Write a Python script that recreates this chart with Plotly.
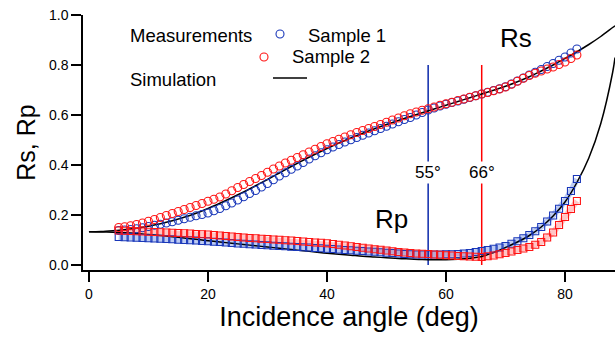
import plotly.graph_objects as go

# ---------------- data ----------------
angles_meas = list(range(5, 83))

rs_sample1 = [0.138, 0.140, 0.142, 0.145, 0.149, 0.154, 0.159, 0.163, 0.168, 0.173,
              0.179, 0.185, 0.191, 0.197, 0.202, 0.208, 0.217, 0.226, 0.237, 0.248,
              0.260, 0.273, 0.286, 0.298, 0.312, 0.326, 0.341, 0.356, 0.369, 0.383,
              0.396, 0.410, 0.424, 0.437, 0.449, 0.461, 0.472, 0.482, 0.492, 0.501,
              0.510, 0.519, 0.528, 0.537, 0.546, 0.555, 0.564, 0.573, 0.582, 0.590,
              0.600, 0.610, 0.620, 0.628, 0.636, 0.643, 0.650, 0.656, 0.663, 0.670,
              0.677, 0.684, 0.691, 0.698, 0.705, 0.713, 0.724, 0.736, 0.748, 0.760,
              0.771, 0.782, 0.794, 0.806, 0.819, 0.832, 0.848, 0.864]

rs_sample2 = [0.150, 0.153, 0.157, 0.162, 0.168, 0.175, 0.182, 0.190, 0.198, 0.206,
              0.214, 0.222, 0.230, 0.238, 0.246, 0.255, 0.263, 0.272, 0.284, 0.297,
              0.310, 0.322, 0.334, 0.346, 0.358, 0.371, 0.384, 0.396, 0.408, 0.419,
              0.430, 0.441, 0.452, 0.463, 0.474, 0.485, 0.494, 0.503, 0.512, 0.521,
              0.530, 0.538, 0.546, 0.554, 0.562, 0.571, 0.580, 0.588, 0.597, 0.605,
              0.612, 0.619, 0.625, 0.632, 0.639, 0.645, 0.651, 0.658, 0.664, 0.671,
              0.677, 0.684, 0.690, 0.697, 0.704, 0.712, 0.723, 0.735, 0.747, 0.758,
              0.767, 0.776, 0.784, 0.792, 0.802, 0.812, 0.826, 0.840]

rp_sample1 = [0.112, 0.111, 0.110, 0.109, 0.108, 0.107, 0.106, 0.105, 0.104, 0.103,
              0.101, 0.100, 0.099, 0.098, 0.096, 0.095, 0.093, 0.092, 0.090, 0.088,
              0.086, 0.085, 0.083, 0.082, 0.080, 0.079, 0.077, 0.076, 0.075, 0.073,
              0.072, 0.071, 0.070, 0.068, 0.067, 0.065, 0.064, 0.062, 0.060, 0.059,
              0.057, 0.056, 0.054, 0.053, 0.051, 0.049, 0.048, 0.046, 0.044, 0.043,
              0.042, 0.042, 0.042, 0.042, 0.042, 0.043, 0.043, 0.044, 0.046, 0.048,
              0.052, 0.056, 0.060, 0.065, 0.070, 0.076, 0.085, 0.095, 0.107, 0.120,
              0.135, 0.152, 0.174, 0.198, 0.225, 0.256, 0.296, 0.344]

rp_sample2 = [0.138, 0.137, 0.136, 0.135, 0.134, 0.133, 0.132, 0.131, 0.130, 0.129,
              0.128, 0.127, 0.126, 0.124, 0.123, 0.122, 0.120, 0.118, 0.116, 0.114,
              0.112, 0.110, 0.108, 0.107, 0.105, 0.104, 0.102, 0.101, 0.099, 0.098,
              0.096, 0.094, 0.092, 0.090, 0.089, 0.087, 0.084, 0.081, 0.078, 0.075,
              0.072, 0.069, 0.066, 0.063, 0.061, 0.058, 0.055, 0.052, 0.050, 0.048,
              0.046, 0.045, 0.044, 0.042, 0.041, 0.039, 0.038, 0.036, 0.035, 0.034,
              0.033, 0.032, 0.035, 0.038, 0.043, 0.048, 0.054, 0.060, 0.066, 0.072,
              0.081, 0.092, 0.110, 0.130, 0.160, 0.192, 0.224, 0.256]

angles_sim = [0, 2, 4, 6, 8, 10, 12, 14, 16, 18, 20, 22, 24, 26, 28, 30, 32, 34, 36, 38,
              40, 42, 44, 46, 48, 50, 52, 54, 56, 58, 60, 62, 64, 66, 68, 70, 72, 74, 76, 78,
              80, 82, 84, 86, 88, 88.4]
rs_sim = [0.133, 0.134, 0.137, 0.141, 0.147, 0.155, 0.165, 0.177, 0.191, 0.207,
          0.226, 0.247, 0.269, 0.292, 0.317, 0.342, 0.368, 0.394, 0.419, 0.443,
          0.466, 0.488, 0.508, 0.527, 0.545, 0.562, 0.578, 0.594, 0.609, 0.624,
          0.639, 0.654, 0.669, 0.684, 0.699, 0.715, 0.733, 0.753, 0.776, 0.800,
          0.826, 0.853, 0.882, 0.914, 0.950, 0.957]
rp_sim = [0.133, 0.132, 0.131, 0.129, 0.126, 0.122, 0.118, 0.113, 0.108, 0.103,
          0.097, 0.092, 0.087, 0.082, 0.077, 0.072, 0.067, 0.062, 0.057, 0.052,
          0.047, 0.043, 0.039, 0.035, 0.032, 0.029, 0.026, 0.024, 0.022, 0.021,
          0.021, 0.023, 0.027, 0.034, 0.050, 0.070, 0.092, 0.118, 0.152, 0.196,
          0.252, 0.330, 0.428, 0.565, 0.770, 0.830]

marker_angles = [57, 66]
marker_labels = ["55°", "66°"]
marker_line_top = 0.8
marker_label_y = 0.372

x_ticks = [0, 20, 40, 60, 80]
y_ticks = [0.0, 0.2, 0.4, 0.6, 0.8, 1.0]

# ---------------- style ----------------
BLUE = "rgb(25,55,185)"
RED = "rgb(255,20,20)"
BLUE_PALE = "rgba(70,110,220,0.35)"
RED_PALE = "rgba(255,90,90,0.35)"
LINE_BLUE = "rgb(10,40,170)"
LINE_RED = "rgb(255,0,0)"
FONT = "Liberation Sans, Arial, Helvetica, sans-serif"

fig = go.Figure()

# pale bands behind the Rp squares
fig.add_trace(go.Scatter(x=angles_meas, y=rp_sample2, mode="lines",
                         line=dict(color=RED_PALE, width=6), hoverinfo="skip"))
fig.add_trace(go.Scatter(x=angles_meas, y=rp_sample1, mode="lines",
                         line=dict(color=BLUE_PALE, width=6), hoverinfo="skip"))

# vertical marker lines
for a, col in zip(marker_angles, [LINE_BLUE, LINE_RED]):
    fig.add_trace(go.Scatter(x=[a, a], y=[0, marker_line_top], mode="lines",
                             line=dict(color=col, width=1.5), hoverinfo="skip"))

# simulation
fig.add_trace(go.Scatter(x=angles_sim, y=rs_sim, mode="lines",
                         line=dict(color="black", width=1.5, shape="spline")))
fig.add_trace(go.Scatter(x=angles_sim, y=rp_sim, mode="lines",
                         line=dict(color="black", width=1.5, shape="spline")))

# measurements
fig.add_trace(go.Scatter(x=angles_meas, y=rs_sample1, mode="markers",
                         marker=dict(symbol="circle-open", size=8, color=BLUE,
                                     line=dict(width=1.1))))
fig.add_trace(go.Scatter(x=angles_meas, y=rs_sample2, mode="markers",
                         marker=dict(symbol="circle-open", size=8, color=RED,
                                     line=dict(width=1.1))))
fig.add_trace(go.Scatter(x=angles_meas, y=rp_sample1, mode="markers",
                         marker=dict(symbol="square-open", size=7, color=BLUE,
                                     line=dict(width=1.1))))
fig.add_trace(go.Scatter(x=angles_meas, y=rp_sample2, mode="markers",
                         marker=dict(symbol="square-open", size=7, color=RED,
                                     line=dict(width=1.1))))

annotations = []
for a, lab in zip(marker_angles, marker_labels):
    annotations.append(dict(x=a, y=marker_label_y, xref="x", yref="y", text=lab,
                            showarrow=False, bgcolor="white", borderpad=1,
                            xanchor="center", yanchor="middle",
                            font=dict(size=17, color="black", family=FONT)))

# legend texts (paper coords)
W, H = 532.0, 255.0
def px(xp):
    return (xp - 83) / W
def py(yp):
    return (270 - yp) / H

legend_texts = [("Measurements", 128, 35), ("Sample 1", 306, 35),
                ("Sample 2", 290, 57), ("Simulation", 128, 79)]
for t, xx, yy in legend_texts:
    annotations.append(dict(x=px(xx), y=py(yy), xref="paper", yref="paper", text=t,
                            showarrow=False, xanchor="left", yanchor="middle",
                            font=dict(size=18.5, color="black", family=FONT)))

annotations.append(dict(x=px(516), y=py(38), xref="paper", yref="paper", text="Rs",
                        showarrow=False, xanchor="center", yanchor="middle",
                        font=dict(size=26, color="black", family=FONT)))
annotations.append(dict(x=px(391), y=py(219), xref="paper", yref="paper", text="Rp",
                        showarrow=False, xanchor="center", yanchor="middle",
                        font=dict(size=26, color="black", family=FONT)))

shapes = [
    dict(type="circle", xref="paper", yref="paper", xsizemode="pixel", ysizemode="pixel",
         xanchor=px(280), yanchor=py(34), x0=-4, x1=4, y0=-4, y1=4,
         line=dict(color=BLUE, width=1.1)),
    dict(type="circle", xref="paper", yref="paper", xsizemode="pixel", ysizemode="pixel",
         xanchor=px(264), yanchor=py(57), x0=-4, x1=4, y0=-4, y1=4,
         line=dict(color=RED, width=1.1)),
    dict(type="line", xref="paper", yref="paper", x0=px(273), x1=px(307),
         y0=py(78), y1=py(78), line=dict(color="black", width=1.5)),
]

fig.update_layout(
    width=615, height=338,
    margin=dict(l=83, r=0, t=15, b=68),
    paper_bgcolor="white", plot_bgcolor="white",
    showlegend=False,
    font=dict(family=FONT, color="black", size=14),
    annotations=annotations,
    shapes=shapes,
    xaxis=dict(range=[-1, 88.4], tickvals=x_ticks, ticks="outside", ticklen=10,
               tickwidth=1.5, tickcolor="black", showline=True, linecolor="black",
               linewidth=1.5, showgrid=False, zeroline=False,
               tickfont=dict(size=14, family=FONT),
               title=dict(text="Incidence angle (deg)", font=dict(size=27, family=FONT),
                          standoff=7)),
    yaxis=dict(range=[-0.02, 1.0], tickvals=y_ticks, tickformat=".1f", ticks="outside",
               ticklen=10, tickwidth=1.5, tickcolor="black", showline=True,
               linecolor="black", linewidth=1.5, showgrid=False, zeroline=False,
               tickfont=dict(size=14, family=FONT),
               title=dict(text="Rs, Rp", font=dict(size=25, family=FONT), standoff=6)),
)

fig.write_html("out.html")
